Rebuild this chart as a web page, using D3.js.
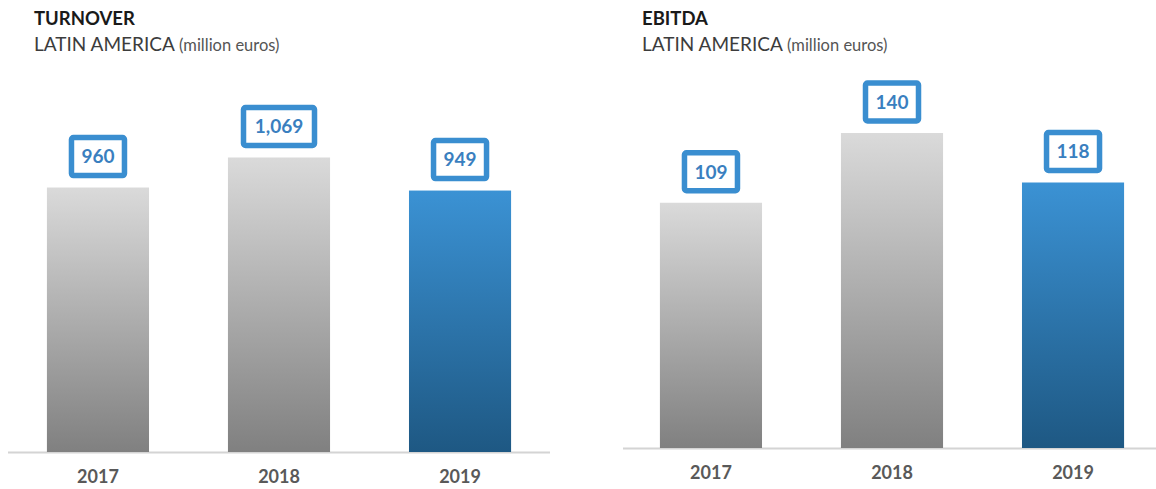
<!DOCTYPE html>
<html>
<head>
<meta charset="utf-8">
<script src="https://cdn.jsdelivr.net/npm/d3@7"></script>
<style>
  html, body { margin: 0; padding: 0; background: #fff; }
  #chart { width: 1156px; height: 489px; }
  text { font-family: Lato, "Open Sans", sans-serif; }
</style>
</head>
<body>
<div id="chart"></div>
<script>
// Two small bar panels: Latin America turnover and EBITDA, 2017-2019.
var years = ['2017', '2018', '2019'];
var turnover = [960, 1069, 949];
var ebitda = [109, 140, 118];
var turnoverLabels = ['960', '1,069', '949'];
var ebitdaLabels = ['109', '140', '118'];
var highlightYear = '2019';

(function () {
    var W = 1156, H = 489;
    var svg = d3.select('#chart').append('svg')
        .attr('width', W).attr('height', H)
        .attr('viewBox', '0 0 ' + W + ' ' + H);

    // per-bar vertical gradients
    var defs = svg.append('defs');
    function grad(id, top, bottom) {
        var g = defs.append('linearGradient').attr('id', id)
            .attr('x1', 0).attr('y1', 0).attr('x2', 0).attr('y2', 1);
        g.append('stop').attr('offset', '0%').attr('stop-color', top);
        g.append('stop').attr('offset', '100%').attr('stop-color', bottom);
    }
    grad('g-grey', '#dadada', '#808080');
    grad('g-blue', '#3b92d4', '#1e5883');

    function panel(opt) {
        var g = svg.append('g');

        // Titles
        g.append('text')
            .attr('x', opt.titleX).attr('y', 25)
            .attr('font-size', 18.5).attr('font-weight', 700)
            .attr('fill', '#1a1a1a')
            .text(opt.title);
        var sub = g.append('text')
            .attr('x', opt.titleX).attr('y', 51)
            .attr('fill', '#3c3c3c');
        sub.append('tspan').attr('font-size', 19).text('LATIN AMERICA ');
        sub.append('tspan').attr('font-size', 16.5).attr('fill', '#555').text('(million euros)');

        var x = d3.scaleBand().domain(years)
            .range(opt.xRange).paddingInner(0.436).paddingOuter(0.215);
        var y = d3.scaleLinear().domain([0, opt.unit])
            .range([opt.base, opt.base - opt.unitPx]);

        // Baseline
        g.append('line')
            .attr('x1', opt.lineX[0]).attr('x2', opt.lineX[1])
            .attr('y1', opt.base + 0.5).attr('y2', opt.base + 0.5)
            .attr('stroke', '#d4d4d4').attr('stroke-width', 2);

        // Bars
        g.selectAll('rect.bar').data(opt.values).enter().append('rect')
            .attr('class', 'bar')
            .attr('x', function (d, i) { return x(years[i]); })
            .attr('y', function (d) { return y(d); })
            .attr('width', x.bandwidth())
            .attr('height', function (d) { return y(0) - y(d); })
            .attr('fill', function (d, i) {
                return years[i] === highlightYear ? 'url(#g-blue)' : 'url(#g-grey)';
            });

        // Value boxes
        var boxH = 38, gap = 12;
        var lab = g.selectAll('g.lab').data(opt.values).enter().append('g')
            .attr('class', 'lab')
            .attr('transform', function (d, i) {
                return 'translate(' + (x(years[i]) + x.bandwidth() / 2) + ',' + (y(d) - gap - boxH / 2) + ')';
            });
        lab.append('rect')
            .attr('x', function (d, i) { return -(opt.labels[i].length > 3 ? 71 : 53) / 2; })
            .attr('y', -boxH / 2)
            .attr('width', function (d, i) { return opt.labels[i].length > 3 ? 71 : 53; })
            .attr('height', boxH)
            .attr('rx', 2)
            .attr('fill', '#fff')
            .attr('stroke', '#3a8ed0').attr('stroke-width', 5.5);
        lab.append('text')
            .attr('text-anchor', 'middle').attr('dy', '0.36em')
            .attr('font-size', 19).attr('font-weight', 700)
            .attr('fill', '#3a7fbf')
            .text(function (d, i) { return opt.labels[i]; });

        // Year axis labels
        var ax = g.append('g')
            .attr('transform', 'translate(0,' + (opt.base + 18) + ')')
            .call(d3.axisBottom(x).tickSize(0).tickPadding(0));
        ax.select('.domain').remove();
        ax.selectAll('text')
            .attr('font-family', 'Lato, "Open Sans", sans-serif')
            .attr('font-size', 18).attr('font-weight', 700)
            .attr('fill', '#595959');
    }

    panel({
        title: 'TURNOVER', titleX: 34,
        values: turnover, labels: turnoverLabels,
        xRange: [8, 550], lineX: [8, 550],
        base: 452, unit: 1000, unitPx: 275.5
    });
    panel({
        title: 'EBITDA', titleX: 642,
        values: ebitda, labels: ebitdaLabels,
        xRange: [621, 1163], lineX: [623, 1156],
        base: 448, unit: 100, unitPx: 225
    });
})();
</script>
</body>
</html>
